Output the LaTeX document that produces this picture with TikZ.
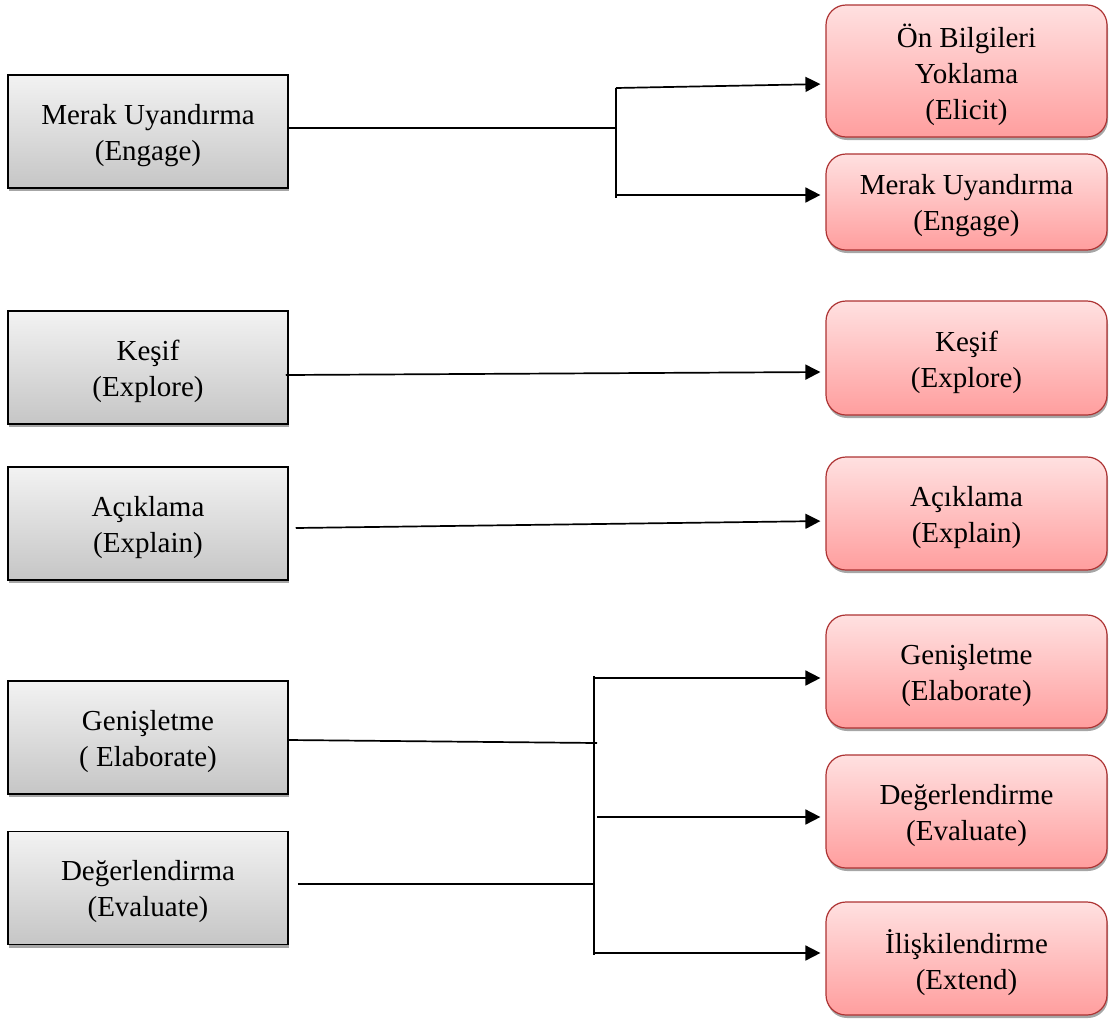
\documentclass[tikz,border=0pt]{standalone}
\usepackage{fontspec}
\setmainfont{Liberation Serif}
\usetikzlibrary{arrows.meta,shadows,calc}
\newcommand\boxtxt[1]{\raisebox{-4pt}[\height][\depth]{\parbox{270pt}{\centering #1}}}
\begin{document}
\begin{tikzpicture}[x=1pt,y=-1pt,
  leftbox/.style={rectangle, draw=black, line width=1.5pt, top color=gray!10, bottom color=gray!45,
    minimum width=280pt, minimum height=113pt, inner sep=0pt,
    font=\fontsize{29}{36}\selectfont,
    drop shadow={shadow xshift=0.5pt, shadow yshift=-3pt, fill=gray!70, opacity=1}},
  rightbox/.style={rectangle, rounded corners=20pt, draw=red!60!black!80, line width=1.2pt,
    top color=red!12, bottom color=red!38,
    minimum width=281pt, inner sep=0pt,
    font=\fontsize{29}{36}\selectfont,
    drop shadow={shadow xshift=1pt, shadow yshift=-3pt, fill=gray!70, opacity=1}},
  conn/.style={line width=1.7pt, draw=black},
  arr/.style={conn, -{Triangle[length=15pt,width=15pt]}, shorten >=5pt}
]
\useasboundingbox (0,0) rectangle (1109,1018);

% left boxes
\node[leftbox] (L1) at (148,131.5) {\boxtxt{Merak Uyandırma\\(Engage)}};
\node[leftbox] (L2) at (148,367.5) {\boxtxt{Keşif\\(Explore)}};
\node[leftbox] (L3) at (148,523.5) {\boxtxt{Açıklama\\(Explain)}};
\node[leftbox] (L4) at (148,737.5) {\boxtxt{Genişletme\\( Elaborate)}};
\node[leftbox] (L5) at (148,888) {\boxtxt{Değerlendirma\\(Evaluate)}};

% right boxes
\node[rightbox, minimum height=132pt] (R1) at (966.5,71) {\boxtxt{Ön Bilgileri\\Yoklama\\(Elicit)}};
\node[rightbox, minimum height=96pt] (R2) at (966.5,202) {\boxtxt{Merak Uyandırma\\(Engage)}};
\node[rightbox, minimum height=114pt] (R3) at (966.5,358) {\boxtxt{Keşif\\(Explore)}};
\node[rightbox, minimum height=113pt] (R4) at (966.5,513.5) {\boxtxt{Açıklama\\(Explain)}};
\node[rightbox, minimum height=113pt] (R5) at (966.5,671.5) {\boxtxt{Genişletme\\(Elaborate)}};
\node[rightbox, minimum height=113pt] (R6) at (966.5,811.5) {\boxtxt{Değerlendirme\\(Evaluate)}};
\node[rightbox, minimum height=113pt] (R7) at (966.5,958.5) {\boxtxt{İlişkilendirme\\(Extend)}};

% top fork
\coordinate (j1) at (616,128);
\coordinate (j1t) at (616,88);
\coordinate (j1b) at (616,198);
\coordinate (j1c) at (616,195);
\draw[conn] ([yshift=3.5pt]L1.east) -- (j1);
\draw[conn] (j1t) -- (j1b);
\draw[arr] (j1t) -- ([yshift=-13pt]R1.west);
\draw[arr] (j1c) -- ([yshift=7pt]R2.west);

% single arrows
\draw[arr] ([xshift=-3pt,yshift=-7.5pt]L2.east) -- ([yshift=-14pt]R3.west);
\draw[arr] ([xshift=7pt,yshift=-4.5pt]L3.east) -- ([yshift=-7.5pt]R4.west);

% bottom fork
\coordinate (j2t) at (594,676);
\coordinate (j2b) at (594,955);
\coordinate (j2a) at (597,743);
\coordinate (j2d) at (594,884);
\coordinate (j2e) at (594,678);
\coordinate (j2f) at (597,817);
\coordinate (j2g) at (594,953);
\draw[conn] (j2t) -- (j2b);
\draw[conn] ([yshift=-2.5pt]L4.east) -- (j2a);
\draw[conn] ([xshift=9pt,yshift=4pt]L5.east) -- (j2d);
\draw[arr] (j2e) -- ([yshift=-6.5pt]R5.west);
\draw[arr] (j2f) -- ([yshift=-5.5pt]R6.west);
\draw[arr] (j2g) -- ([yshift=5.5pt]R7.west);
\end{tikzpicture}
\end{document}
